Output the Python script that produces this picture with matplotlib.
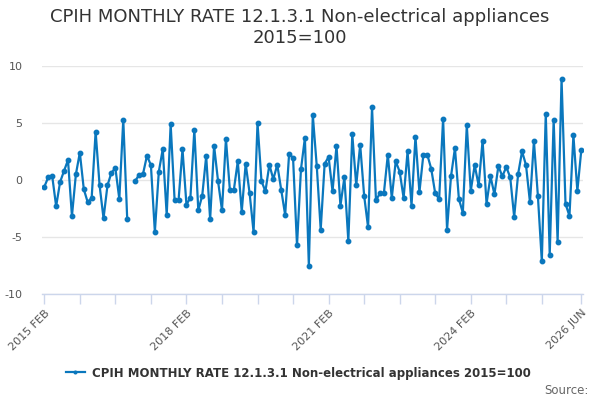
import numpy as np
import pandas as pd
import matplotlib
matplotlib.use("Agg")
import matplotlib.pyplot as plt

months = pd.period_range("2015-02", "2026-06", freq="M")
values = [
    -0.6, 0.24, 0.35, -2.3, -0.18, 0.8, 1.75, -3.16, 0.5, 2.4,
    -0.8, -1.96, -1.55, 4.24, -0.47, -3.36, -0.47, 0.64, 1.05, -1.67,
    5.3, -3.45, np.nan, -0.09, 0.44, 0.53, 2.13, 1.3, -4.56, 0.73,
    2.7, -3.07, 4.9, -1.78, -1.78, 2.7, -2.16, -1.55, 4.39, -2.66,
    -1.37, 2.1, -3.45, 3.0, -0.09, -2.66, 3.6, -0.88, -0.88, 1.64,
    -2.78, 1.43, -1.17, -4.56, 5.0, -0.09, -1.0, 1.35, 0.06, 1.35,
    -0.88, -3.07, 2.3, 1.93, -5.73, 0.93, 3.7, -7.54, 5.7, 1.23,
    -4.36, 1.43, 2.02, -1.0, 3.0, -2.25, 0.23, -5.35, 4.0, -0.47,
    3.1, -1.37, -4.15, 6.37, -1.78, -1.17, -1.17, 2.22, -1.58, 1.64,
    0.73, -1.58, 2.51, -2.25, 3.8, -1.08, 2.22, 2.22, 0.97, -1.17,
    -1.67, 5.38, -4.36, 0.32, 2.8, -1.67, -2.87, 4.8, -0.96, 1.3,
    -0.47, 3.45, -2.08, 0.32, -1.26, 1.23, 0.32, 1.14, 0.23, -3.25,
    0.53, 2.51, 1.3, -1.96, 3.42, -1.37, -7.13, 5.82, -6.55, 5.3,
    -5.44, 8.86, -2.08, -3.16, 3.92, -0.96, 2.63,
]
label_months = ["2015-02", "2018-02", "2021-02", "2024-02", "2026-06"]
label_texts = ["2015 FEB", "2018 FEB", "2021 FEB", "2024 FEB", "2026 JUN"]
y_ticks = [-10, -5, 0, 5, 10]
series_name = "CPIH MONTHLY RATE 12.1.3.1 Non-electrical appliances 2015=100"
title = "CPIH MONTHLY RATE 12.1.3.1 Non-electrical appliances\n2015=100"

plt.rcParams['font.family'] = ['DejaVu Sans']
fig = plt.figure(figsize=(6, 4), dpi=100)
ax = fig.add_axes([42/600, 1-294/400, (583-42)/600, (294-66)/400])

for s in ['top', 'right', 'left']:
    ax.spines[s].set_visible(False)
ax.spines['bottom'].set_color('#ccd6eb')
ax.spines['bottom'].set_linewidth(1)

x = np.arange(len(months))
ax.plot(x, values, color='#0a77bd', lw=1.6, marker='o', ms=3.2,
        label=series_name, zorder=3)

ax.set_ylim(-10, 10)
px_per_month = (581.3 - 44.3) / 136
ax.set_xlim((42 - 44.3) / px_per_month, (583 - 44.3) / px_per_month)

ax.set_yticks(y_ticks)
ax.set_yticklabels([str(t) for t in y_ticks], color='#555555', fontsize=8)
ax.tick_params(axis='y', length=0, pad=14)
ax.grid(axis='y', color='#e6e6e6', lw=1)
ax.set_axisbelow(True)

idx = {str(m): i for i, m in enumerate(months)}
tick_pos = list(range(0, len(months) - 9, 9)) + [len(months) - 1]
ax.set_xticks(tick_pos)
lab_pos = {idx[m]: t for m, t in zip(label_months, label_texts)}
ax.set_xticklabels([lab_pos.get(p, "") for p in tick_pos], fontsize=8, color='#555555')
ax.tick_params(axis='x', length=7, color='#ccd6eb', width=1, pad=3)
for lbl in ax.get_xticklabels():
    lbl.set_rotation(45)
    lbl.set_ha('right')
    lbl.set_rotation_mode('anchor')

fig.text(0.5, 1 - 8/400, title, ha='center', va='top', fontsize=13,
         color='#333333', linespacing=1.2)

leg = fig.legend(loc='center', bbox_to_anchor=(0.497, 1 - 373/400), frameon=False,
                 prop={'weight': 'bold', 'size': 8.5}, handlelength=1.6,
                 handletextpad=0.6, markerscale=0.6)
for t in leg.get_texts():
    t.set_color('#333333')

fig.text(589/600, 1 - 390/400, "Source:", ha='right', va='center', fontsize=8.5,
         color='#666666')

fig.savefig("out.png", dpi=100)
